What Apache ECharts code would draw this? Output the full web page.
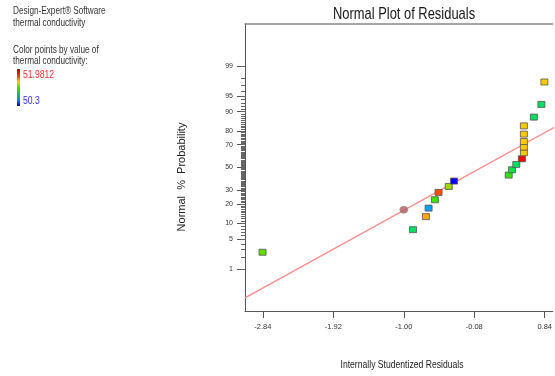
<!DOCTYPE html>
<html>
<head>
<meta charset="utf-8">
<script src="https://cdn.jsdelivr.net/npm/echarts@6/dist/echarts.min.js"></script>
<style>
html,body{margin:0;padding:0;background:#fff;}
#chart{width:555px;height:376px;}
</style>
</head>
<body>
<div id="chart"></div>
<script>
// ---- data ----
var residuals = [-2.844, -0.879, -0.711, -0.676, -0.594, -0.546, -0.413, -0.343, 0.370, 0.413, 0.469, 0.542, 0.568, 0.568, 0.568, 0.568, 0.568, 0.698, 0.797, 0.836];
var probPct   = [2.6, 7.7, 13.0, 17.6, 23.0, 28.4, 33.2, 37.8, 43.1, 47.9, 52.8, 57.9, 63.2, 68.0, 72.4, 77.8, 83.0, 87.6, 92.6, 97.5];
var conductivity = [51.19, 50.86, 51.55, 50.58, 51.14, 51.81, 51.28, 50.30, 51.10, 50.92, 50.86, 51.98, 51.45, 51.45, 51.45, 51.45, 51.45, 50.86, 50.86, 51.45];
var flagPoint = [-1.00, 16.6];
var fitLineX = [-3.073, 1.8];
var fitLinePct = [0.14, 95.8];
var xTicks = [-2.84, -1.92, -1.00, -0.08, 0.84];
var yMajorPct = [1, 5, 10, 20, 30, 50, 70, 80, 90, 95, 99];
var yMinorPct = [];
for (var k = 1; k <= 99; k++) yMinorPct.push(k);
var colorMin = 50.3, colorMax = 51.9812;

// inverse normal CDF (probability scale of the axis)
function probit(p) {
  var a=[-3.969683028665376e+01,2.209460984245205e+02,-2.759285104469687e+02,1.383577518672690e+02,-3.066479806614716e+01,2.506628277459239e+00];
  var b=[-5.447609879822406e+01,1.615858368580409e+02,-1.556989798598866e+02,6.680131188771972e+01,-1.328068155288572e+01];
  var c=[-7.784894002430293e-03,-3.223964580411365e-01,-2.400758277161838e+00,-2.549732539343734e+00,4.374664141464968e+00,2.938163982698783e+00];
  var d=[7.784695709041462e-03,3.224671290700398e-01,2.445134137142996e+00,3.754408661907416e+00];
  var pl=0.02425, q, r;
  if (p < pl) { q=Math.sqrt(-2*Math.log(p)); return (((((c[0]*q+c[1])*q+c[2])*q+c[3])*q+c[4])*q+c[5])/((((d[0]*q+d[1])*q+d[2])*q+d[3])*q+1); }
  if (p > 1-pl) { q=Math.sqrt(-2*Math.log(1-p)); return -(((((c[0]*q+c[1])*q+c[2])*q+c[3])*q+c[4])*q+c[5])/((((d[0]*q+d[1])*q+d[2])*q+d[3])*q+1); }
  q=p-0.5; r=q*q;
  return (((((a[0]*r+a[1])*r+a[2])*r+a[3])*r+a[4])*r+a[5])*q/(((((b[0]*r+b[1])*r+b[2])*r+b[3])*r+b[4])*r+1);
}
function z(pct){ return probit(pct/100); }

var labelMap = {};
yMajorPct.forEach(function(p){ labelMap[z(p).toFixed(5)] = String(p); });

var pts = residuals.map(function(x,i){ return [x, z(probPct[i]), conductivity[i]]; });
var linePts = fitLineX.map(function(x,i){ return [x, z(fitLinePct[i])]; });

var FONT = "'Liberation Sans',Arial,sans-serif";
var gradColors = ['#0000ff','#00a0ff','#00e060','#40e000','#ffd000','#ff8000','#ff0000'];

function ctext(txt, x, y, size, color, sx, align, rot) {
  return {type:'text', x:x, y:y, scaleX:sx, rotation:rot||0,
    style:{text:txt, font:size+'px '+FONT, fill:color, align:align||'left', verticalAlign:'middle'}};
}

var chart = echarts.init(document.getElementById('chart'), null, {renderer:'canvas'});
chart.setOption({
  animation:false,
  backgroundColor:'#fff',
  grid:{left:245, top:24, bottom:65, right:0, show:false},
  xAxis:[{
    type:'value', min:-3.073, max:0.944,
    axisLine:{onZero:false, lineStyle:{color:'#555'}},
    axisTick:{customValues:xTicks, length:7, lineStyle:{color:'#555'}},
    axisLabel:{customValues:xTicks, fontFamily:FONT, fontSize:7.5, color:'#333', margin:12,
      formatter:function(v){ return v.toFixed(2); }},
    splitLine:{show:false}
  },{
    type:'value', min:-3.073, max:0.944, position:'top',
    axisLine:{onZero:false, lineStyle:{color:'#888', width:1.5}},
    axisTick:{show:false}, axisLabel:{show:false}, splitLine:{show:false}
  }],
  yAxis:[{
    type:'value', min:-3.29, max:3.29,
    axisLine:{onZero:false, lineStyle:{color:'#555'}},
    axisTick:{customValues:yMajorPct.map(z), length:8, lineStyle:{color:'#555'}},
    axisLabel:{customValues:yMajorPct.map(z), fontFamily:FONT, fontSize:7, color:'#333', margin:12,
      formatter:function(v){ return labelMap[v.toFixed(5)] || ''; }},
    splitLine:{show:false}
  },{
    type:'value', min:-3.29, max:3.29, position:'left',
    axisLine:{show:false, onZero:false},
    axisTick:{show:true, customValues:yMinorPct.map(z), length:4, lineStyle:{color:'#666'}},
    axisLabel:{show:false},
    splitLine:{show:false}
  }],
  visualMap:{
    show:false, type:'continuous', seriesIndex:1, dimension:2,
    min:colorMin, max:colorMax, inRange:{color:gradColors}
  },
  series:[{
    type:'line', data:linePts, symbol:'none', silent:true,
    lineStyle:{color:'#ff8c8c', width:1.3}, z:1
  },{
    type:'scatter', data:pts, symbol:'rect', symbolSize:[7,6],
    itemStyle:{borderColor:'#555', borderWidth:0.8, opacity:1}, z:3
  },{
    type:'scatter', data:[[flagPoint[0], z(flagPoint[1])]], symbol:'circle', symbolSize:[8,7],
    itemStyle:{color:'#b35c5c', borderColor:'#888', borderWidth:0.8}, z:2
  }],
  graphic:[
    ctext('Normal Plot of Residuals', 404, 14, 17, '#1a1a1a', 0.76, 'center'),
    ctext('Internally Studentized Residuals', 402, 365, 10.5, '#222', 0.82, 'center'),
    ctext('Normal  %  Probability', 182, 177, 11, '#222', 1.0, 'center', Math.PI/2),
    ctext('Design-Expert® Software', 13, 11, 10, '#333', 0.82),
    ctext('thermal conductivity', 13, 23, 10, '#333', 0.82),
    ctext('Color points by value of', 13, 50, 10, '#333', 0.82),
    ctext('thermal conductivity:', 13, 61, 10, '#333', 0.82),
    {type:'rect', x:17, y:69, shape:{width:3, height:37},
      style:{fill:new echarts.graphic.LinearGradient(0,0,0,1,[
        {offset:0,color:'#b00000'},{offset:0.2,color:'#ff4000'},{offset:0.35,color:'#ffd000'},
        {offset:0.5,color:'#40e000'},{offset:0.7,color:'#00c060'},{offset:0.85,color:'#0080ff'},{offset:1,color:'#0000a0'}])}},
    ctext('51.9812', 23, 75, 10.5, '#ff3030', 0.82),
    ctext('50.3', 23, 101, 10.5, '#3030ff', 0.82)
  ]
});
</script>
</body>
</html>
